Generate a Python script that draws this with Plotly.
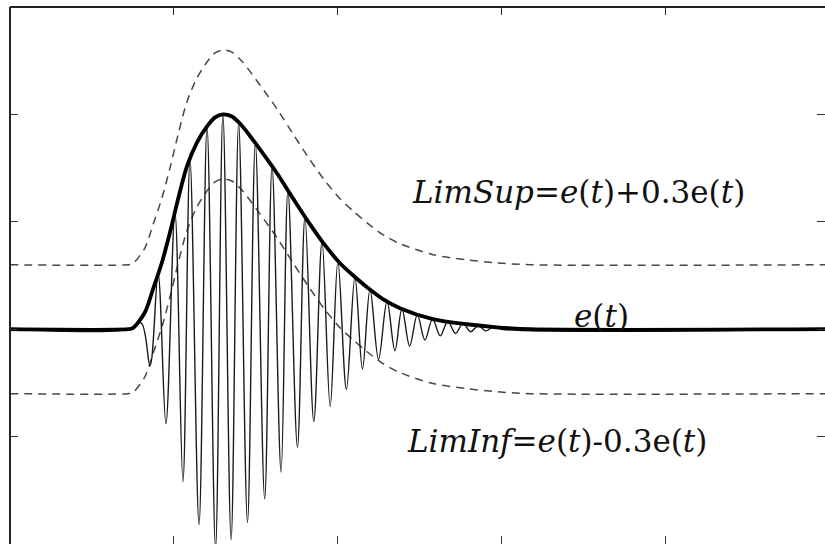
import plotly.graph_objects as go

# Envelope e(t): sampled points along the bold curve
env_t = [0.0, 0.72, 0.75, 0.824, 0.873, 0.928, 0.977, 1.026, 1.08, 1.142, 1.203,
         1.252, 1.30, 1.355, 1.42, 1.526, 1.630, 1.728, 1.832, 1.923, 2.015, 2.094,
         2.180, 2.277, 2.381, 2.582, 2.790, 2.973, 3.175, 4.976]
env_v = [0.0, 0.0, 0.005, 0.079, 0.186, 0.312, 0.451, 0.605, 0.758, 0.870, 0.944,
         0.986, 1.0, 0.99, 0.944, 0.837, 0.726, 0.609, 0.488, 0.391, 0.307, 0.251,
         0.195, 0.140, 0.098, 0.047, 0.023, 0.009, 0.0, 0.0]

# Band offset for the tolerance limits
band = 0.3

# Modulated signal: successive crests and troughs
sig_t = [0.0, 0.72, 0.80, 0.855, 0.904, 0.952, 1.007, 1.056, 1.099, 1.154, 1.203,
         1.255, 1.300, 1.350, 1.396, 1.450, 1.498, 1.555, 1.600, 1.655, 1.697,
         1.755, 1.801, 1.855, 1.905, 1.955, 2.002, 2.054, 2.106, 2.152, 2.198,
         2.250, 2.302, 2.350, 2.393, 2.440, 2.487, 2.533, 2.580, 2.627, 2.673,
         2.720, 2.766, 2.812, 2.859, 2.905, 2.950, 3.0, 4.976]
sig_v = [0.0, 0.0, 0.03, -0.17, 0.257, -0.44, 0.545, -0.71, 0.79, -0.91, 0.944,
         -1.02, 1.0, -0.98, 0.96, -0.90, 0.867, -0.79, 0.76, -0.665, 0.646,
         -0.55, 0.524, -0.43, 0.41, -0.36, 0.315, -0.28, 0.243, -0.186, 0.185,
         -0.14, 0.13, -0.10, 0.095, -0.078, 0.068, -0.05, 0.047, -0.031, 0.036,
         -0.02, 0.027, -0.012, 0.016, -0.008, 0.011, 0.0, 0.0]

# Axis tick positions (unlabelled)
x_ticks = [0, 1, 2, 3, 4]
y_ticks = [-0.5, 0, 0.5, 1.0, 1.5]

lim_sup = [v + band for v in env_v]
lim_inf = [v - band for v in env_v]

fig = go.Figure()

dash_style = dict(color="#474747", width=1.5, dash="8px,6px", shape="spline", smoothing=0.8)
fig.add_trace(go.Scatter(x=env_t, y=lim_sup, mode="lines", line=dash_style, hoverinfo="skip"))
fig.add_trace(go.Scatter(x=env_t, y=lim_inf, mode="lines", line=dash_style, hoverinfo="skip"))

fig.add_trace(go.Scatter(x=sig_t, y=sig_v, mode="lines",
                         line=dict(color="#1a1a1a", width=1.4, shape="spline", smoothing=1.0),
                         hoverinfo="skip"))

fig.add_trace(go.Scatter(x=env_t, y=env_v, mode="lines",
                         line=dict(color="#000000", width=3.8, shape="spline", smoothing=0.8),
                         hoverinfo="skip"))

serif = "DejaVu Serif"
fig.add_annotation(x=2.44, y=0.64, xref="x", yref="y", xanchor="left", yanchor="middle",
                   text="<i>LimSup</i>=<i>e</i>(<i>t</i>)+0.3e(<i>t</i>)",
                   showarrow=False, font=dict(family=serif, size=31, color="#111"))
fig.add_annotation(x=3.614, y=0.062, xref="x", yref="y", xanchor="center", yanchor="middle",
                   text="<i>e</i>(<i>t</i>)",
                   showarrow=False, font=dict(family=serif, size=31, color="#111"))
fig.add_annotation(x=2.41, y=-0.52, xref="x", yref="y", xanchor="left", yanchor="middle",
                   text="<i>LimInf</i>=<i>e</i>(<i>t</i>)-0.3e(<i>t</i>)",
                   showarrow=False, font=dict(family=serif, size=31, color="#111"))

# Frame: only the top and left edges are drawn
frame = dict(type="line", xref="paper", yref="paper", layer="above",
             line=dict(color="#222", width=2))
fig.add_shape(x0=0, x1=1, y0=1, y1=1, **frame)
fig.add_shape(x0=0, x1=0, y0=0, y1=1, **frame)

axis_common = dict(showline=False, mirror="ticks", ticks="inside", ticklen=8,
                   tickcolor="#333", tickwidth=1, showticklabels=False,
                   showgrid=False, zeroline=False, fixedrange=True)

fig.update_layout(
    width=825, height=544,
    margin=dict(l=10, r=0, t=7, b=0),
    paper_bgcolor="white", plot_bgcolor="white",
    showlegend=False,
    xaxis=dict(range=[0, 4.976], side="top", tickvals=x_ticks, **axis_common),
    yaxis=dict(range=[-1.0, 1.5], tickvals=y_ticks, **axis_common),
)

fig.write_html("out.html")
